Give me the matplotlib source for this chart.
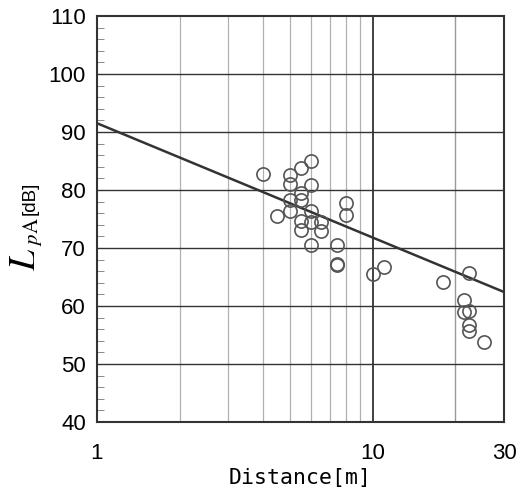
import matplotlib.pyplot as plt
from matplotlib.ticker import FixedLocator, NullFormatter, MultipleLocator

plt.rcParams['mathtext.fontset'] = 'stix'

# measured points (distance in m, level in dB)
distance = [4.0, 5.0, 5.5, 6.0, 5.0, 6.0, 5.5, 5.0, 5.5, 8.0,
            4.5, 5.0, 6.0, 8.0, 5.5, 6.0, 6.5, 5.5, 6.5, 6.0,
            7.45, 7.45, 7.45, 10.0, 11.0, 18.0, 22.4, 21.5, 21.4, 22.4,
            22.4, 22.4, 25.4]
level = [82.8, 82.5, 83.8, 85.0, 81.0, 80.9, 79.4, 78.3, 78.3, 77.8,
         75.5, 76.4, 76.3, 75.6, 74.7, 74.5, 74.5, 73.1, 72.9, 70.5,
         70.5, 67.3, 67.0, 65.5, 66.7, 64.1, 65.6, 61.0, 58.9, 59.1,
         56.7, 55.6, 53.7]

# regression line end points
fit_x = [1, 30]
fit_y = [91.5, 62.4]

W, H = 526, 497
fig = plt.figure(figsize=(W / 100, H / 100), dpi=100)
ax = fig.add_axes([0.1844, 0.151, 0.7738, 0.817])

# vertical grid
for v in [2, 3, 4, 5, 6, 7, 8, 9]:
    ax.axvline(v, color='#b0b0b0', lw=0.9, zorder=0)
ax.axvline(20, color='#999999', lw=1.0, zorder=0)
ax.axvline(10, color='#333333', lw=1.3, zorder=0)
for h in [50, 60, 70, 80, 90, 100]:
    ax.axhline(h, color='#333333', lw=1.0, zorder=0)

ax.plot(fit_x, fit_y, color='#333333', lw=1.8, zorder=2)
ax.plot(distance, level, 'o', ms=9.5, mfc='none', mec='#555555', mew=1.2, zorder=3)

ax.set_xscale('log')
ax.set_xlim(1, 30)
ax.set_ylim(40, 110)
ax.xaxis.set_major_locator(FixedLocator([1, 10, 30]))
ax.xaxis.set_minor_locator(FixedLocator([]))
ax.xaxis.set_minor_formatter(NullFormatter())
ax.set_xticklabels(['1', '10', '30'])
ax.yaxis.set_major_locator(MultipleLocator(10))
ax.yaxis.set_minor_locator(MultipleLocator(2))

ax.tick_params(axis='x', which='both', length=0, pad=15)
ax.tick_params(axis='y', which='major', length=0, pad=8)
ax.tick_params(axis='y', which='minor', direction='in', length=5, color='#777777')
for lbl in ax.get_xticklabels() + ax.get_yticklabels():
    lbl.set_family('Liberation Sans')
    lbl.set_fontsize(16)

for s in ax.spines.values():
    s.set_color('#333333')
    s.set_linewidth(1.5)

ax.set_xlabel('Distance[m]', family='DejaVu Sans Mono', fontsize=15.5, labelpad=3)

# y label built from pieces: L, subscript pA, [dB]
fig.text(25 / W, 1 - 271 / H, r'$L$', fontsize=27, rotation=90,
         ha='center', va='bottom')
fig.text(32 / W, 1 - 246 / H, r'$p\mathrm{A}$', fontsize=15, rotation=90,
         ha='center', va='bottom')
fig.text(30 / W, 1 - 215 / H, '[dB]', family='Liberation Sans', fontsize=13.5,
         rotation=90, ha='center', va='bottom')

fig.savefig('out.png', dpi=100)
